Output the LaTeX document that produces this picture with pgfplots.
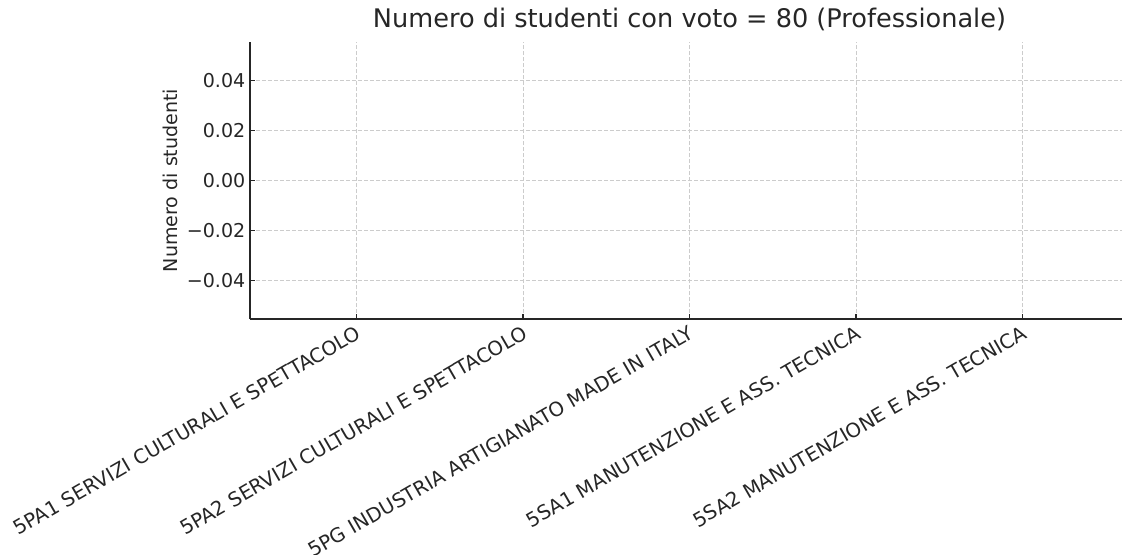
\documentclass[border=0pt]{standalone}
\usepackage{pgfplots}
\pgfplotsset{compat=1.18}
\usepackage{fontspec}
\setmainfont{DejaVu Sans}
\definecolor{txt}{HTML}{262626}
\definecolor{gridc}{HTML}{CCCCCC}
\definecolor{barc}{HTML}{1F77B4}
\begin{document}
\begin{tikzpicture}
\begin{axis}[
  scale only axis,
  width=659.25pt,
  height=207.75pt,
  xmin=-0.64, xmax=4.64,
  ymin=-0.0552, ymax=0.0552,
  scaled y ticks=false,
  axis x line=bottom, axis y line=left,
  axis line style={-, line width=0.9pt, color=txt},
  tick align=inside,
  major tick length=3.75pt,
  tick style={line width=0.9pt, color=txt},
  xtick={0,1,2,3,4},
  xticklabels={5PA1 SERVIZI CULTURALI E SPETTACOLO,5PA2 SERVIZI CULTURALI E SPETTACOLO,5PG INDUSTRIA ARTIGIANATO MADE IN ITALY,5SA1 MANUTENZIONE E ASS. TECNICA,5SA2 MANUTENZIONE E ASS. TECNICA},
  x tick label style={rotate=30, anchor=north east, font=\fontsize{14.8}{17}\selectfont, color=txt, inner sep=3pt},
  ytick={-0.04,-0.02,0,0.02,0.04},
  yticklabels={−0.04,−0.02,0.00,0.02,0.04},
  y tick label style={font=\fontsize{14.3}{16}\selectfont, color=txt},
  grid=major,
  grid style={dashed, dash pattern=on 3pt off 1.5pt, gridc, line width=0.6pt},
  title={Numero di studenti con voto = 80 (Professionale)},
  title style={at={(0.5,1)}, anchor=base, yshift=5.25pt, font=\fontsize{19.2}{22}\selectfont, color=txt},
  ylabel={Numero di studenti},
  ylabel style={at={(axis description cs:-0.091,0.5)}, anchor=center, font=\fontsize{14.3}{16}\selectfont, color=txt},
]
\addplot[ybar, bar width=0.8, fill=none, draw=none] coordinates {(0,0) (1,0) (2,0) (3,0) (4,0)};
\end{axis}
\pgfresetboundingbox
\useasboundingbox (-187.5pt,-176.25pt) rectangle (654pt,239.25pt);
\end{tikzpicture}
\end{document}
